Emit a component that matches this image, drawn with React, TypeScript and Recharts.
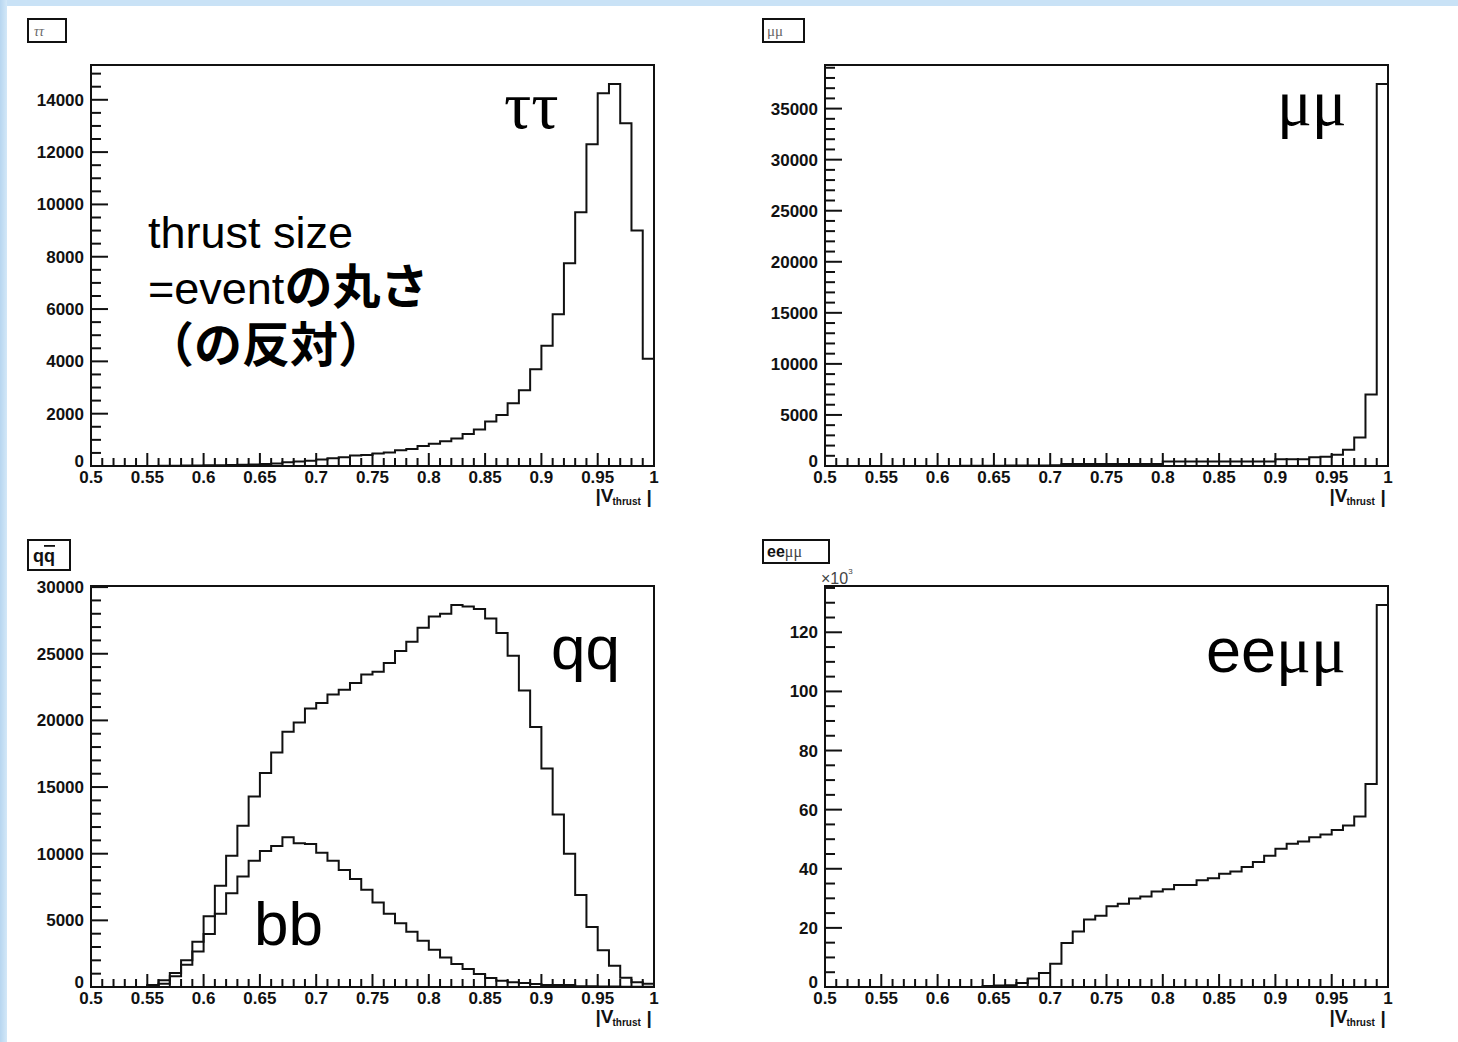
import { LineChart, Line, XAxis, YAxis, ReferenceArea } from 'recharts'

// bin low edges of |V_thrust| (50 bins, width 0.01)
const BIN_LOW: number[] = Array.from({ length: 50 }, (_, i) => Number((0.5 + i * 0.01).toFixed(2)))
const X_TICKS: number[] = [...BIN_LOW, 1]

const TAUTAU = [
  0, 0, 0, 0, 0, 0, 5, 10, 15, 20,
  25, 30, 40, 50, 60, 80, 100, 140, 170, 200,
  250, 300, 330, 400, 420, 480, 520, 600, 650, 760,
  850, 950, 1050, 1220, 1400, 1700, 1950, 2400, 2900, 3700,
  4600, 5800, 7750, 9700, 12300, 14250, 14600, 13100, 9000, 4100,
]

const MUMU = [
  0, 0, 0, 0, 0, 0, 0, 0, 0, 0,
  10, 10, 20, 20, 30, 30, 40, 40, 50, 60,
  80, 200, 200, 200, 200, 200, 200, 200, 200, 200,
  450, 450, 450, 450, 450, 450, 450, 450, 450, 450,
  650, 650, 650, 850, 900, 1100, 1600, 2800, 7000, 37400,
]

const QQ = [
  0, 0, 0, 0, 0, 150, 500, 1050, 2000, 3400,
  5300, 7600, 9850, 12100, 14300, 16050, 17600, 19150, 19850, 20900,
  21300, 21950, 22300, 22800, 23450, 23650, 24300, 25200, 25900, 26950,
  27800, 28000, 28650, 28550, 28350, 27650, 26550, 24850, 22250, 19500,
  16400, 12950, 10000, 6900, 4500, 2750, 1600, 700, 350, 250,
]

const BB = [
  0, 0, 0, 0, 0, 50, 250, 800, 1670, 2670,
  3970, 5490, 7040, 8290, 9480, 10200, 10580, 11230, 10780, 10730,
  10080, 9480, 8780, 8110, 7290, 6340, 5490, 4790, 4140, 3470,
  2800, 2220, 1720, 1350, 970, 670, 470, 350, 300, 220,
  150, 150, 150, 60, 50, 40, 30, 20, 10, 10,
]

// in units of 10^3
const EEMUMU = [
  0, 0, 0, 0, 0, 0, 0, 0, 0, 0,
  0, 0, 0, 0, 0.3, 0.5, 0.6, 1.35, 2.9, 4.7,
  7.9, 14.9, 18.8, 22.8, 24.1, 27.3, 28.2, 29.9, 30.6, 32.3,
  33.1, 34.5, 34.5, 36.1, 36.8, 38.3, 39.1, 40.6, 42.3, 44.4,
  46.8, 48.5, 49.2, 50.7, 51.6, 53.1, 54.6, 57.7, 68.7, 129.2,
]

const TAU_MAJOR = [0, 2000, 4000, 6000, 8000, 10000, 12000, 14000]
const MUMU_MAJOR = [0, 5000, 10000, 15000, 20000, 25000, 30000, 35000]
const QQ_MAJOR = [0, 5000, 10000, 15000, 20000, 25000, 30000]
const EE_MAJOR = [0, 20, 40, 60, 80, 100, 120]

const INK = '#111'
const LABEL_FONT = '"Liberation Sans", Arial, sans-serif'

const L = 90
const T = 10
const R = 10
const B = 40
const PW = 563
const PH = 401

function XTick(props: any) {
  const { x, y, payload } = props
  const v = payload.value as number
  const isMajor = Math.round(v * 100) % 5 === 0
  return (
    <g>
      <line x1={x} x2={x} y1={y} y2={y - (isMajor ? 13 : 8)} stroke={INK} strokeWidth={2} />
      {isMajor && (
        <text x={x} y={y + 17} textAnchor="middle" fontSize={17} fontWeight={700} fill={INK} fontFamily={LABEL_FONT}>
          {String(v)}
        </text>
      )}
    </g>
  )
}

const makeYTick = (majors: number[]) => (props: any) => {
  const { x, y, payload } = props
  const v = payload.value as number
  const isMajor = majors.includes(v)
  return (
    <g>
      <line x1={x} x2={x + (isMajor ? 17 : 10)} y1={y} y2={y} stroke={INK} strokeWidth={2} />
      {isMajor && (
        <text x={x - 7} y={y} dy={v === 0 ? 1 : 6} textAnchor="end" fontSize={17} fontWeight={700} fill={INK} fontFamily={LABEL_FONT}>
          {v}
        </text>
      )}
    </g>
  )
}

interface Series {
  key: string
  values: number[]
}

function Panel({ left, top, series, majors, minorStep }: { left: number; top: number; series: Series[]; majors: number[]; minorStep: number }) {
  const rows = X_TICKS.map((x, i) => {
    const row: Record<string, number> = { x }
    series.forEach((s) => {
      row[s.key] = s.values[Math.min(i, s.values.length - 1)]
    })
    return row
  })
  const ymax = Math.max(...series.flatMap((s) => s.values)) * 1.05
  const yTicks: number[] = []
  for (let k = 0; k * minorStep <= ymax; k++) yTicks.push(k * minorStep)

  return (
    <div style={{ position: 'absolute', left: left - L, top: top - T }}>
      <LineChart width={PW + L + R} height={PH + T + B} data={rows} margin={{ top: T, right: R, left: 0, bottom: 0 }}>
        <XAxis
          dataKey="x"
          type="number"
          domain={[0.5, 1]}
          ticks={X_TICKS}
          interval={0}
          tickSize={0}
          tickMargin={0}
          tick={XTick}
          height={B}
          axisLine={{ stroke: INK, strokeWidth: 2 }}
          tickLine={false}
          allowDataOverflow
        />
        <YAxis
          type="number"
          domain={[0, ymax]}
          ticks={yTicks}
          interval={0}
          tickSize={0}
          tickMargin={0}
          tick={makeYTick(majors)}
          width={L}
          axisLine={{ stroke: INK, strokeWidth: 2 }}
          tickLine={false}
          allowDataOverflow
        />
        <ReferenceArea x1={0.5} x2={1} y1={0} y2={ymax} fill="none" stroke={INK} strokeWidth={2} ifOverflow="visible" />
        {series.map((s) => (
          <Line
            key={s.key}
            dataKey={s.key}
            type="stepAfter"
            stroke={INK}
            strokeWidth={2}
            dot={false}
            activeDot={false}
            isAnimationActive={false}
          />
        ))}
      </LineChart>
    </div>
  )
}

function AxisTitle({ right, bottom }: { right: number; bottom: number }) {
  return (
    <g fill={INK} fontFamily={LABEL_FONT} fontWeight={700}>
      <text x={right - 58} y={bottom + 36} fontSize={19}>|V</text>
      <text x={right - 41} y={bottom + 39} fontSize={10}>thrust</text>
      <text x={right - 7} y={bottom + 37} fontSize={19}>|</text>
    </g>
  )
}

export default function App() {
  const serif = '"Liberation Serif", "Times New Roman", serif'
  const sans = '"Liberation Sans", Arial, sans-serif'
  const jp = '"Liberation Sans", "Noto Sans CJK JP", sans-serif'
  const cjk = '"Noto Sans CJK JP", sans-serif'
  return (
    <div style={{ position: 'absolute', left: 0, top: 0, width: 1458, height: 1042, background: '#fff', overflow: 'hidden' }}>
      <div style={{ position: 'absolute', left: 0, top: 0, width: 1458, height: 6, background: '#c9e2f6' }} />
      <div style={{ position: 'absolute', left: 0, top: 0, width: 7, height: 1042, background: 'linear-gradient(90deg, #b7d6f0, #d3e8f8)' }} />

      <Panel left={91} top={65} series={[{ key: 'tautau', values: TAUTAU }]} majors={TAU_MAJOR} minorStep={500} />
      <Panel left={825} top={65} series={[{ key: 'mumu', values: MUMU }]} majors={MUMU_MAJOR} minorStep={1000} />
      <Panel left={91} top={586} series={[{ key: 'qq', values: QQ }, { key: 'bb', values: BB }]} majors={QQ_MAJOR} minorStep={1000} />
      <Panel left={825} top={586} series={[{ key: 'eemumu', values: EEMUMU }]} majors={EE_MAJOR} minorStep={5} />

      <svg width={1458} height={1042} style={{ position: 'absolute', left: 0, top: 0, pointerEvents: 'none' }}>
        {/* histogram title boxes */}
        <rect x={28} y={19} width={38} height={23} fill="#fff" stroke={INK} strokeWidth={2} />
        <text x={34} y={36} fontSize={14} fill="#666" fontFamily={serif} fontStyle="italic">ττ</text>
        <rect x={763} y={19} width={41} height={23} fill="#fff" stroke={INK} strokeWidth={2} />
        <text x={767} y={36} fontSize={15} fill="#666" fontFamily={serif}>μμ</text>
        <rect x={28} y={540} width={42} height={30} fill="#fff" stroke={INK} strokeWidth={2} />
        <text x={33} y={562} fontSize={18} fontWeight={700} fill={INK} fontFamily={sans}>
          q<tspan style={{ textDecoration: 'overline' }}>q</tspan>
        </text>
        <rect x={763} y={540} width={66} height={23} fill="#fff" stroke={INK} strokeWidth={2} />
        <text x={767} y={557} fontSize={16} fill={INK} fontFamily={sans}>
          <tspan fontWeight={700}>ee</tspan>
          <tspan fontFamily={serif} fill="#444">μμ</tspan>
        </text>
        <text x={821} y={584} fontSize={16} fill="#444" fontFamily={sans}>
          ×10<tspan fontSize={8} dy={-10}>3</tspan>
        </text>

        <AxisTitle right={653.5} bottom={466} />
        <AxisTitle right={1387.5} bottom={466} />
        <AxisTitle right={653.5} bottom={987} />
        <AxisTitle right={1387.5} bottom={987} />

        {/* annotations */}
        <text x={504} y={128} fontSize={68} fill="#000" fontFamily={serif}>ττ</text>
        <text x={1277} y={125} fontSize={65} fill="#000" fontFamily={serif}>μμ</text>
        <text x={551} y={669} fontSize={62} fill="#000" fontFamily={sans}>qq</text>
        <text x={254} y={945} fontSize={62} fill="#000" fontFamily={sans}>bb</text>
        <text x={1206} y={672} fontSize={63} fill="#000" fontFamily={sans}>
          ee<tspan fontFamily={serif} fontSize={65}>μμ</tspan>
        </text>

        <text x={148} y={248} fontSize={45} fill="#000" fontFamily={jp}>thrust size</text>
        <text x={148} y={304} fontSize={45} fill="#000" fontFamily={jp}>
          =event<tspan fontWeight={700} fontFamily={cjk} fontSize={48}>の丸さ</tspan>
        </text>
        <text x={146} y={362} fontSize={48} fontWeight={700} fill="#000" fontFamily={cjk}>（の反対）</text>
      </svg>
    </div>
  )
}
